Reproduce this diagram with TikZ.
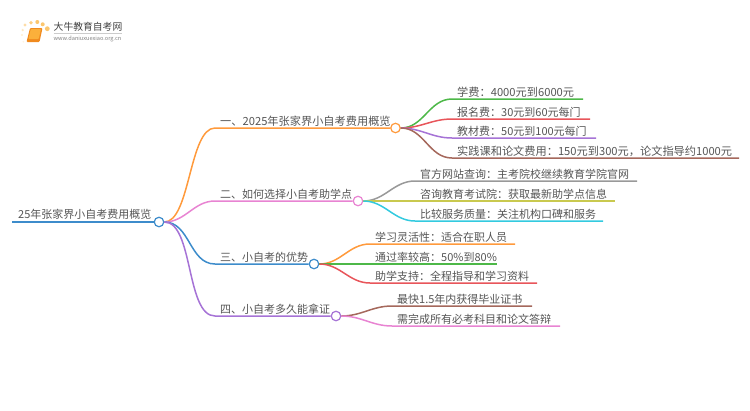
\documentclass[tikz,border=0pt]{standalone}
\usepackage{fontspec}
\setmainfont{Noto Sans CJK SC}
\usetikzlibrary{positioning}
\definecolor{txt}{HTML}{555555}
\definecolor{cblue}{HTML}{3D8CCB}
\definecolor{corange}{HTML}{FF9A3C}
\definecolor{cpink}{HTML}{E884D2}
\definecolor{cpurple}{HTML}{A673D6}
\definecolor{cgreen}{HTML}{4DB848}
\definecolor{cred}{HTML}{E8555A}
\definecolor{cbrown}{HTML}{A5685C}
\definecolor{cgrey}{HTML}{999999}
\definecolor{colive}{HTML}{C9C94F}
\definecolor{ccyan}{HTML}{33CADF}
\definecolor{lspark}{HTML}{FBC66E}
\definecolor{lbook}{HTML}{F08A1E}
\definecolor{lcover}{HTML}{FBB03B}
\begin{document}
\begin{tikzpicture}[
  x=1pt, y=-1pt,
  lab/.style={inner sep=0pt, text height=9.5pt, text depth=2pt, font=\fontsize{11}{13}\selectfont, text=txt, anchor=south west},
  wide/.style={lab, font=\fontsize{11.2}{13}\selectfont},
  dot/.style={circle, draw, fill=white, line width=1.2pt, minimum size=9.5pt, inner sep=0pt},
  arr/.style={line width=1.5pt},
  node distance=0pt and 5pt
]
\useasboundingbox (0,0) rectangle (750,410);

% logo
\fill[lspark!60] (25,25) circle (1.7);
\fill[lspark!85] (31,22.7) circle (1.9);
\fill[lspark] (37.3,22) circle (2);
\fill[lspark] (42.7,24.3) circle (2);
\fill[lspark] (47.3,28.7) circle (2.4);
\fill[lspark!40] (22.7,30) circle (1.3);
\fill[lspark!30] (22,35) circle (1.1);
\fill[lspark!20] (23.3,41.7) circle (1);
\fill[lbook, rounded corners=1pt] (30,28) -- (42.5,28) -- (39.5,42) -- (26.5,42) -- cycle;
\fill[lcover, rounded corners=0.8pt] (30.8,29) -- (41,29) -- (38.7,39) -- (28.5,39) -- cycle;
\node[inner sep=0pt, font=\fontsize{9.8}{12}\selectfont, text=black!75, anchor=west] (brand) at (53.5,26.7) {大牛教育自考网};
\node[inner sep=0pt, font=\fontsize{5.6}{7}\selectfont, text=black!50, anchor=west] (site) at (53.5,39) {www.daniuxuexiao.org.cn};
\draw[black!20, line width=0.5pt] (53.5,33) -- (122,33);

% root and branches
\coordinate (start) at (12,222);
\node[dot, draw=cblue]   (root) at (159,222) {};
\node[dot, draw=corange] (fee)  at (395.5,128) {};
\node[dot, draw=cpink]   (how)  at (358,201) {};
\node[dot, draw=cblue]   (adv)  at (314,264) {};
\node[dot, draw=cpurple] (time) at (336,316) {};

\coordinate (feeb)  at (215,128);
\coordinate (howb)  at (215,201);
\coordinate (advb)  at (215,264);
\coordinate (timeb) at (215,316);

\node[lab, above right=1pt and 6pt of start] (roott) {25年张家界小自考费用概览};
\node[wide, above right=of feeb]  (feet)  {一、2025年张家界小自考费用概览};
\node[lab, above right=of howb]  (howt)  {二、如何选择小自考助学点};
\node[lab, above right=of advb]  (advt)  {三、小自考的优势};
\node[lab, above right=of timeb] (timet) {四、小自考多久能拿证};

\draw[arr, cblue] (start) -- (root);
\draw[arr, corange] (root) to[out=0, in=180, looseness=0.62] (feeb) -- (fee);
\draw[arr, cpink]   (root) to[out=0, in=180] (howb) -- (how);
\draw[arr, cblue]   (root) to[out=0, in=180] (advb) -- (adv);
\draw[arr, cpurple] (root) to[out=0, in=180, looseness=0.7] (timeb) -- (time);

% leaves of fee
\coordinate (fa1) at (452,99);   \coordinate (fe1) at (583,99);
\coordinate (fa2) at (452,119); \coordinate (fe2) at (590,119);
\coordinate (fa3) at (452,138);  \coordinate (fe3) at (596,138);
\coordinate (fa4) at (452,158);  \coordinate (fe4) at (739,158);
\node[wide, above right=of fa1] (ft1) {学费：4000元到6000元};
\node[lab, above right=of fa2] (ft2) {报名费：30元到60元每门};
\node[lab, above right=of fa3] (ft3) {教材费：50元到100元每门};
\node[wide, above right=of fa4] (ft4) {实践课和论文费用：150元到300元，论文指导约1000元};
\draw[arr, cgreen]  (fee) to[out=0, in=180] (fa1) -- (fe1);
\draw[arr, cred]    (fee) to[out=0, in=180] (fa2) -- (fe2);
\draw[arr, cpurple] (fee) to[out=0, in=180] (fa3) -- (fe3);
\draw[arr, cbrown]  (fee) to[out=0, in=180] (fa4) -- (fe4);

% leaves of how
\coordinate (ha1) at (415,181); \coordinate (he1) at (637,181);
\coordinate (ha2) at (415,201); \coordinate (he2) at (615,201);
\coordinate (ha3) at (415,221); \coordinate (he3) at (603,221);
\node[lab, above right=of ha1] (ht1) {官方网站查询：主考院校继续教育学院官网};
\node[lab, above right=of ha2] (ht2) {咨询教育考试院：获取最新助学点信息};
\node[lab, above right=of ha3] (ht3) {比较服务质量：关注机构口碑和服务};
\draw[arr, cgrey]  (how) to[out=0, in=180] (ha1) -- (he1);
\draw[arr, colive] (how) -- (ha2) -- (he2);
\draw[arr, ccyan]  (how) to[out=0, in=180] (ha3) -- (he3);

% leaves of adv
\coordinate (aa1) at (370,244);   \coordinate (ae1) at (515,244);
\coordinate (aa2) at (370,264); \coordinate (ae2) at (497,264);
\coordinate (aa3) at (370,283);   \coordinate (ae3) at (537,283);
\node[lab, above right=of aa1] (at1) {学习灵活性：适合在职人员};
\node[lab, above right=of aa2] (at2) {通过率较高：50\%到80\%};
\node[lab, above right=of aa3] (at3) {助学支持：全程指导和学习资料};
\draw[arr, corange] (adv) to[out=0, in=180] (aa1) -- (ae1);
\draw[arr, cgreen]  (adv) -- (aa2) -- (ae2);
\draw[arr, cred]    (adv) to[out=0, in=180] (aa3) -- (ae3);

% leaves of time
\coordinate (ta1) at (392,306); \coordinate (te1) at (532,306);
\coordinate (ta2) at (392,326); \coordinate (te2) at (560,326);
\node[lab, above right=of ta1] (tt1) {最快1.5年内获得毕业证书};
\node[lab, above right=of ta2] (tt2) {需完成所有必考科目和论文答辩};
\draw[arr, cbrown] (time) to[out=0, in=180] (ta1) -- (te1);
\draw[arr, cpink]  (time) to[out=0, in=180] (ta2) -- (te2);
\end{tikzpicture}
\end{document}
